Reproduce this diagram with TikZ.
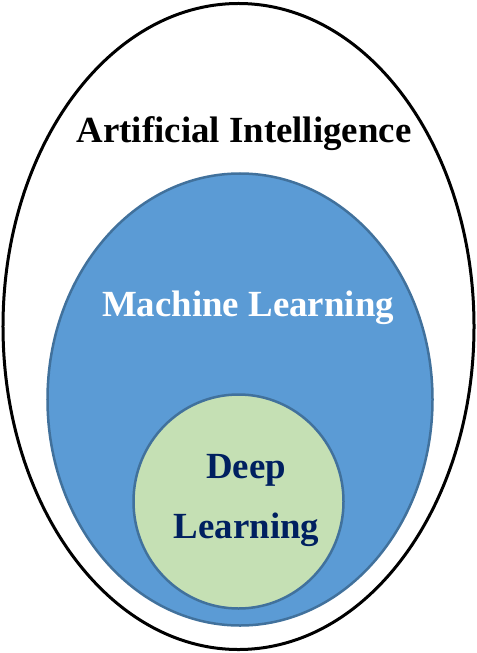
\documentclass[tikz,border=0pt]{standalone}
\usepackage{fontspec}
\setmainfont{Liberation Serif}
\usetikzlibrary{shapes.geometric}

\definecolor{mlblue}{HTML}{5B9BD5}
\definecolor{rimblue}{HTML}{41719C}
\definecolor{dlgreen}{HTML}{C5E0B4}
\definecolor{navy}{HTML}{002060}

\begin{document}
\begin{tikzpicture}[x=1bp, y=-1bp,
    field/.style={ellipse, inner sep=0pt, outer sep=0pt},
    label/.style={anchor=base, inner sep=0pt,
      font=\bfseries\fontsize{37}{37}\selectfont}]
  \useasboundingbox (0,0) rectangle (477,653);

  \node[field, draw=black, line width=3bp,
        minimum width=471bp, minimum height=646bp]  (AI) at (238.5,326.5) {};
  \node[field, draw=rimblue, fill=mlblue, line width=2.5bp,
        minimum width=385bp, minimum height=452bp] (ML) at (240,399.5) {};
  \node[field, draw=rimblue, fill=dlgreen, line width=2.5bp,
        minimum width=210bp, minimum height=214bp] (DL) at (238.5,501.5) {};

  \node[label]              (AItext) at (244,142) {Artificial Intelligence};
  \node[label, text=white]  (MLtext) at (248,316) {Machine Learning};
  \node[label, text=navy]   (DLtop)  at (246,478) {Deep};
  \node[label, text=navy]   (DLbot)  at (246.5,538) {Learning};
\end{tikzpicture}
\end{document}
